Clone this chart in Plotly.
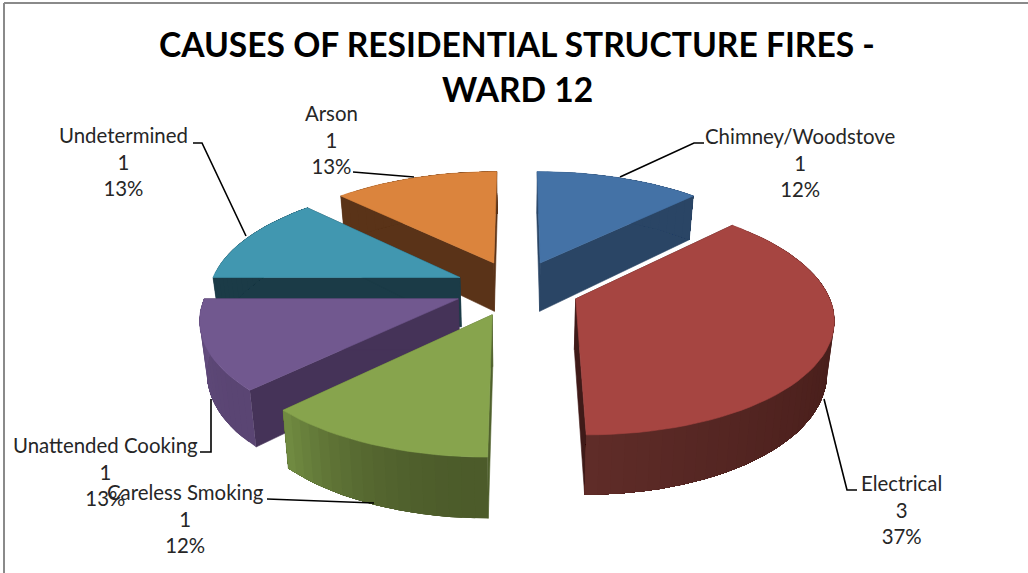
import math
import plotly.graph_objects as go

categories = ["Chimney/Woodstove", "Electrical", "Careless Smoking",
              "Unattended Cooking", "Undetermined", "Arson"]
values = [1, 3, 1, 1, 1, 1]
percent_labels = ["12%", "37%", "12%", "13%", "13%", "13%"]
title_lines = ["CAUSES OF RESIDENTIAL STRUCTURE FIRES -", "WARD 12"]

top_colors = ["#4472a6", "#a64541", "#87a44d", "#71588f", "#4197b0", "#db843d"]
face_colors = ["#2a4565", "#3f1a18", "#50612d", "#453358", "#1b3b47", "#5a3318"]
wall_colors = [("#2a4565", "#2a4565"), ("#431b18", "#5f2c28"), ("#4c5b2a", "#708a41"),
               ("#5a4573", "#654e80"), ("#1b3b47", "#1b3b47"), ("#5a3318", "#5a3318")]
draw_order = [5, 0, 4, 3, 1, 2]

# projection of the exploded, tilted pie onto the page
X0, Y0, SX, SY, PERSP, EXPLODE, DEPTH, BOTTOM_SHRINK = 517, 288, 250.5, 112, 0.15, 0.25, 50, 0.977

label_centers = [(800, 135), (901, 482), (185, 491), (105, 444), (123, 134), (331, 112)]
title_centers = [(517, 44), (517, 89)]
leaders = [[(704, 143), (694, 143), (620, 177)],
           [(857, 490), (847, 490), (824, 399)],
           [(267, 499), (374, 503)],
           [(200, 452), (211, 452), (211, 399)],
           [(193, 143), (202, 143), (246, 236)],
           [(353, 172), (414, 177)]]


def top_pt(x, y):
    s = 1 + PERSP * y
    return X0 + SX * x / s, Y0 - SY * y / s


def bot_pt(x, y):
    px, py = top_pt(x, y)
    return X0 + (px - X0) * BOTTOM_SHRINK, py + DEPTH / (1 + PERSP * y)


def mix(c1, c2, t):
    a = [int(c1[i:i + 2], 16) for i in (1, 3, 5)]
    b = [int(c2[i:i + 2], 16) for i in (1, 3, 5)]
    return "#%02x%02x%02x" % tuple(round(u + (v - u) * t) for u, v in zip(a, b))


fig = go.Figure()


def poly(points, color, name, line=0.6):
    fig.add_trace(go.Scatter(
        x=[p[0] for p in points] + [points[0][0]],
        y=[p[1] for p in points] + [points[0][1]],
        mode="lines", fill="toself", fillcolor=color,
        line=dict(color=color, width=line),
        hoverinfo="skip", name=name, showlegend=False))


total = sum(values)
bounds = [0]
for v in values:
    bounds.append(bounds[-1] + v / total * 2 * math.pi)

for i in draw_order:
    a0, a1 = bounds[i], bounds[i + 1]
    mid = (a0 + a1) / 2
    cx, cy = EXPLODE * math.sin(mid), EXPLODE * math.cos(mid)
    n = max(4, round((a1 - a0) / math.radians(2.5)))
    angles = [a0 + (a1 - a0) * k / n for k in range(n + 1)]
    rim = [(cx + math.sin(a), cy + math.cos(a)) for a in angles]

    # flat cut faces of the wedge
    for r in (rim[0], rim[-1]):
        poly([top_pt(cx, cy), top_pt(*r), bot_pt(*r), bot_pt(cx, cy)], face_colors[i], categories[i])
    # outer wall: each band runs on to the end of the arc, so no seams show between bands
    for k in range(n):
        arc = rim[k:]
        col = mix(wall_colors[i][0], wall_colors[i][1], (k / max(1, n - 1)) ** 2)
        poly([top_pt(*r) for r in arc] + [bot_pt(*r) for r in reversed(arc)], col, categories[i], line=0)
    poly([top_pt(cx, cy)] + [top_pt(*r) for r in rim], top_colors[i], categories[i])

for pts in leaders:
    fig.add_trace(go.Scatter(x=[p[0] for p in pts], y=[p[1] for p in pts], mode="lines",
                             line=dict(color="black", width=1.6), hoverinfo="skip",
                             showlegend=False))

annotations = []
for name, v, pct, (lx, ly) in zip(categories, values, percent_labels, label_centers):
    annotations.append(dict(
        x=lx, y=ly - 13, xref="x", yref="y", xanchor="center", yanchor="top",
        text=f"{name}<br>{v}<br>{pct}", showarrow=False, align="center",
        font=dict(family="Lato", size=20.4, color="#262626")))
for line, (tx, ty) in zip(title_lines, title_centers):
    annotations.append(dict(
        x=tx, y=ty, xref="x", yref="y", xanchor="center", yanchor="middle",
        text=f"<b>{line}</b>", showarrow=False, align="center",
        font=dict(family="Lato", size=33.6, color="black")))

fig.update_layout(
    width=1028, height=573, margin=dict(l=0, r=0, t=0, b=0),
    paper_bgcolor="white", plot_bgcolor="white", showlegend=False,
    xaxis=dict(range=[0, 1028], visible=False, fixedrange=True),
    yaxis=dict(range=[573, 0], visible=False, fixedrange=True),
    annotations=annotations,
    shapes=[dict(type="line", xref="x", yref="y", x0=4, y0=3, x1=1028, y1=3,
                 line=dict(color="#8a8a8a", width=2)),
            dict(type="line", xref="x", yref="y", x0=4, y0=3, x1=4, y1=573,
                 line=dict(color="#8a8a8a", width=2))])
fig.write_html("out.html", config=dict(displayModeBar=False),
               post_script="document.body.style.margin='0';document.body.style.overflow='hidden';")
